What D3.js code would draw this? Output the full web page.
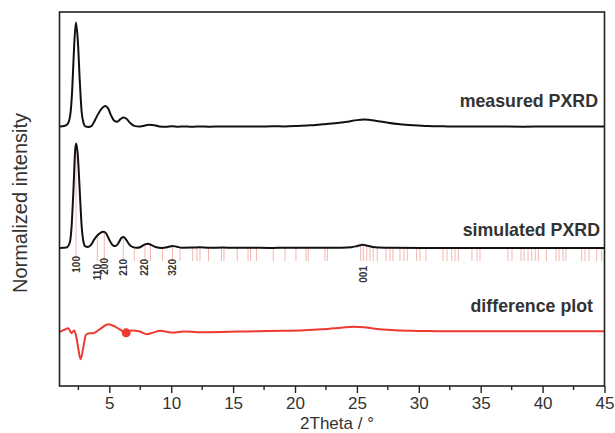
<!DOCTYPE html>
<html><head><meta charset="utf-8">
<script src="https://cdn.jsdelivr.net/npm/d3@7"></script>
<style>body{margin:0;background:#fff}svg{display:block}text{font-family:"Liberation Sans",Arial,sans-serif}</style>
</head><body><svg id="c" width="615" height="433"></svg>
<script>
// measured PXRD: [2Theta, normalized intensity]
const measured = [[1.0,0.5],[1.34,0.8],[1.64,3],[1.85,12],[2.0,35],[2.15,75],[2.3,100],[2.46,82],[2.61,45],[2.76,15],[2.91,4],[3.06,0.5],[3.32,0],[3.57,1],[3.82,6],[4.08,12],[4.38,17.5],[4.68,20],[4.89,18],[5.14,11],[5.39,6],[5.65,5],[5.9,7.5],[6.15,9],[6.41,7.5],[6.71,3.5],[7.02,1],[7.42,0.3],[7.83,1.2],[8.23,2],[8.64,1.5],[9.04,0.5],[9.55,0.2],[10.06,0.6],[10.56,0.2],[11.07,0.5],[11.58,0.1],[12.08,0.4],[13.1,0.2],[14.11,0.5],[15.12,0.3],[16.14,0.4],[17.15,0.3],[18.16,0.6],[19.18,0.5],[20.19,0.9],[21.2,1.5],[22.22,2.5],[23.23,3.5],[24.24,5],[25.0,6.5],[25.6,7],[26.5,6],[27.5,4],[28.5,2.5],[29.6,1.5],[30.7,0.8],[32.35,0.5],[34.38,0.3],[36.4,0.4],[38.43,0.2],[40.46,0.4],[42.48,0.3],[44.2,0.4],[45,0.3]];
// simulated PXRD
const simulated = [[1.0,0],[1.54,0.5],[1.8,5],[1.95,20],[2.1,55],[2.25,95],[2.33,100],[2.46,88],[2.61,55],[2.76,22],[2.91,6],[3.06,1.5],[3.27,1],[3.52,3],[3.77,8],[4.03,12],[4.28,14.5],[4.53,15.5],[4.74,14],[4.99,8],[5.29,2.5],[5.5,1.8],[5.75,5],[6.0,10],[6.15,10.5],[6.36,8],[6.61,3.5],[6.91,0.8],[7.22,0.2],[7.52,1],[7.88,3.5],[8.13,4],[8.38,3],[8.74,1],[9.24,0.1],[9.75,1],[10.11,2],[10.46,1.2],[10.87,0.3],[11.68,0.4],[12.28,0.6],[13.1,0.2],[14.11,0.5],[15.12,0.2],[16.14,0.3],[18.16,0.1],[20.19,0.2],[22.22,0.2],[23.74,0.3],[24.55,0.8],[25.05,2],[25.46,3],[25.86,2.2],[26.28,1],[26.79,0.5],[27.79,0.2],[30.32,0.1],[45,0.1]];
// difference plot
const difference = [[1.0,-0.5],[1.34,1.4],[1.68,3],[1.95,-1.7],[2.15,0.8],[2.3,-3.4],[2.49,-16],[2.68,-26.7],[2.89,-16],[3.11,-3.4],[3.38,-1.7],[3.7,-1.7],[4.24,2.1],[4.92,6.9],[5.46,4.6],[6.0,0.8],[6.36,-1.4],[6.81,0.8],[7.48,-0.2],[8.03,-2.7],[8.54,-1.2],[9.09,0.5],[10.16,-1.2],[10.97,-0.2],[12.84,-0.8],[15.53,-0.2],[17.15,0.2],[19.18,0.5],[20.71,1],[22.22,2],[23.74,3.5],[24.75,4.5],[25.56,4],[26.48,2.5],[27.79,1.2],[29.31,0.5],[31.34,0.2],[34.38,0],[37.42,0.2],[40.46,0],[43.49,0.1],[45,0]];
const markerPoint = [6.36,-1.4];
// simulated reflection positions (2Theta)
const reflections = [2.309,4.029,4.595,6.13,7.017,7.882,8.327,9.295,10.103,10.709,11.736,12.082,12.325,13.014,14.058,14.261,15.335,16.206,16.409,16.885,18.243,19.196,20.077,20.888,21.07,22.418,22.611,25.306,25.519,25.792,26.056,26.319,26.644,27.353,27.677,27.91,28.478,28.802,29.066,29.826,30.099,30.575,31.953,32.278,32.653,32.926,33.19,34.294,34.7,34.943,37.203,37.527,38.256,38.5,38.824,39.118,39.401,39.655,40.313,41.084,41.327,41.651,41.884,43.161,43.424,43.749,44.367,44.772];
const hklLabels = ["100","110","200","210","220","320","001"];
const hklPos = [2.31,4.03,4.6,6.13,7.88,10.1,25.52];
const hklTop = [256,264,258,259,259,259,266];
const seriesNames = ["measured PXRD","simulated PXRD","difference plot"];
const seriesOffsets = [248,132.1,52.3];
const xTicks = [5,10,15,20,25,30,35,40,45];
const xMinor = [2.5,7.5,12.5,17.5,22.5,27.5,32.5,37.5,42.5];

const svg = d3.select("#c");
const L=59.5,R=604.5,T=12,B=386;
const x = d3.scaleLinear().domain([1,45]).range([59.8,604.5]);
const y = d3.scaleLinear().domain([0,358]).range([B,T]);
const ink="#222";

// reflection sticks
const bis = d3.bisector(d=>d[0]).left;
function simAt(t){const i=Math.max(1,Math.min(simulated.length-1,bis(simulated,t)));const a=simulated[i-1],b=simulated[i];return a[1]+(b[1]-a[1])*(t-a[0])/(b[0]-a[0]);}
svg.append("g").selectAll("line").data(reflections).join("line")
 .attr("x1",d=>x(d)).attr("x2",d=>x(d))
 .attr("y1",261).attr("y2",d=>Math.min(250,y(simAt(d)+seriesOffsets[1])))
 .attr("stroke","#f3aaa2").attr("stroke-width",1).attr("opacity",0.85);

const line = off => d3.line().x(d=>x(d[0])).y(d=>y(d[1]+off)).curve(d3.curveMonotoneX);
svg.append("path").datum(measured).attr("d",line(seriesOffsets[0])).attr("fill","none").attr("stroke","#111").attr("stroke-width",2);
svg.append("path").datum(simulated).attr("d",line(seriesOffsets[1])).attr("fill","none").attr("stroke","#111").attr("stroke-width",2);
svg.append("path").datum(difference).attr("d",line(seriesOffsets[2])).attr("fill","none").attr("stroke","#ee3a30").attr("stroke-width",2);
svg.append("circle").attr("cx",x(markerPoint[0])).attr("cy",y(markerPoint[1]+seriesOffsets[2])).attr("r",4.5).attr("fill","#ee3a30");

// hkl labels
hklLabels.forEach((t,i)=>{
 svg.append("text").attr("transform",`translate(${x(hklPos[i])+3.5},${hklTop[i]}) rotate(-90)`)
  .attr("text-anchor","end").attr("font-size",10).attr("font-weight","bold").attr("fill","#333").text(t);
});

// series names
const nameY=[107,236,312], nameX=[598,600,593];
seriesNames.forEach((n,i)=>{
 svg.append("text").attr("x",nameX[i]).attr("y",nameY[i]).attr("text-anchor","end")
  .attr("font-size",17.8).attr("font-weight","bold").attr("fill","#333").text(n);
});

// frame
svg.append("rect").attr("x",L).attr("y",T).attr("width",R-L).attr("height",B-T).attr("fill","none").attr("stroke",ink).attr("stroke-width",1.6);
// x axis
const ax = svg.append("g").attr("transform",`translate(0,${B})`).call(d3.axisBottom(x).tickValues(xTicks).tickSize(7).tickPadding(4).tickFormat(d3.format("d")));
ax.select(".domain").remove();
ax.selectAll("line").attr("stroke",ink).attr("stroke-width",1.4);
ax.selectAll("text").attr("font-size",17).attr("fill","#333").attr("font-family","Liberation Sans, Arial, sans-serif");
svg.append("g").selectAll("line").data(xMinor).join("line").attr("x1",d=>x(d)).attr("x2",d=>x(d)).attr("y1",B).attr("y2",B+4).attr("stroke",ink).attr("stroke-width",1.4);

svg.append("text").attr("x",337).attr("y",428.5).attr("text-anchor","middle").attr("font-size",17).attr("fill","#333").text("2Theta / °");
svg.append("text").attr("transform","translate(27,203) rotate(-90)").attr("text-anchor","middle").attr("font-size",20).attr("fill","#333").text("Normalized intensity");
</script></body></html>
